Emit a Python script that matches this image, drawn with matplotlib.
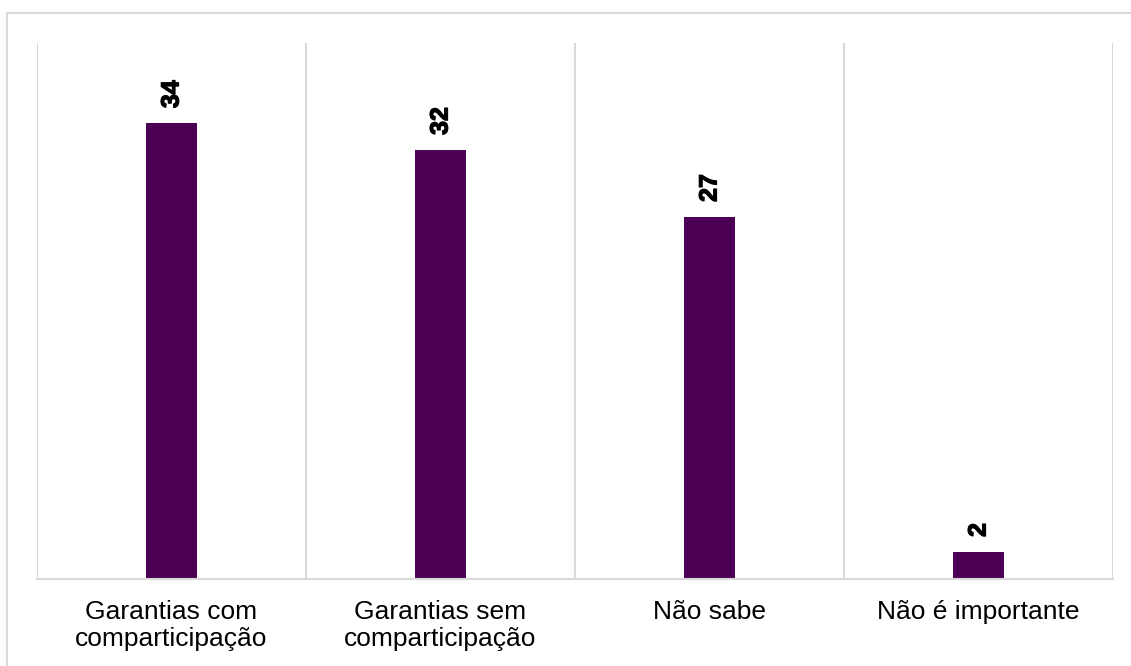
import matplotlib
matplotlib.use('Agg')
from matplotlib import pyplot as plt
from matplotlib import patheffects
from matplotlib.patches import Rectangle
import numpy as np

categories = ['Garantias com\ncomparticipação', 'Garantias sem\ncomparticipação',
              'Não sabe', 'Não é importante']
values = [34, 32, 27, 2]

bar_color = '#4B0055'
grid_color = '#D9D9D9'

plt.rcParams['font.family'] = ['Liberation Sans', 'DejaVu Sans']

fig = plt.figure(figsize=(11.31, 6.66), dpi=100)
# light frame around the whole chart area
fig.patches.append(Rectangle((7 / 1131, -0.1), 1.2, 1.1 - 12.5 / 666,
                             transform=fig.transFigure, fill=False,
                             edgecolor=grid_color, linewidth=1.5))

ax = fig.add_axes([37 / 1131, 1 - 579 / 666, (1113 - 37) / 1131, (579 - 43) / 666])
x = np.arange(len(categories))
bars = ax.bar(x, values, width=0.186, color=bar_color)

thick = [patheffects.withStroke(linewidth=0.9, foreground='black')]
for rect, v in zip(bars, values):
    ax.annotate(str(v), (rect.get_x() + rect.get_width() / 2, rect.get_height()),
                xytext=(0, 11), textcoords='offset points', rotation=90,
                ha='center', va='bottom', fontsize=18, fontweight='bold',
                path_effects=thick)

ax.set_xlim(-0.5, len(categories) - 0.5)
ax.set_ylim(0, 40)
ax.set_yticks([])
ax.set_xticks(x)
ax.set_xticklabels(categories, fontsize=19, linespacing=1.18)
ax.tick_params(axis='x', length=0, pad=15)

for b in np.arange(-0.5, len(categories), 1):
    ax.axvline(b, color=grid_color, linewidth=1.5, zorder=0)

for s in ['top', 'right', 'left']:
    ax.spines[s].set_visible(False)
ax.spines['bottom'].set_color(grid_color)
ax.spines['bottom'].set_linewidth(1.5)

plt.savefig('out.png', dpi=100)
